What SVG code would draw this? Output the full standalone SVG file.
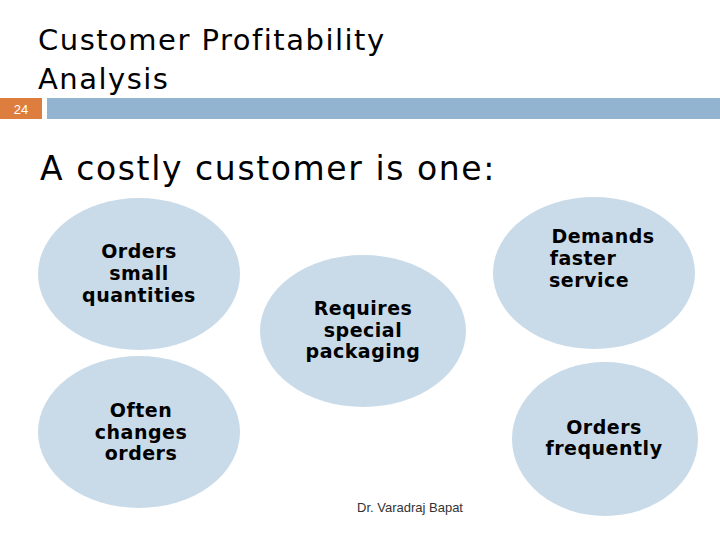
<svg xmlns="http://www.w3.org/2000/svg" width="720" height="540" viewBox="0 0 720 540">
<style>
.t{font-family:"DejaVu Sans",sans-serif;fill:#000}
.n{fill:#c9dbe9}
.b{font-family:"DejaVu Sans",sans-serif;font-weight:bold;font-size:19px;text-anchor:middle;letter-spacing:0.5px}
</style>
<rect width="720" height="540" fill="#fff"/>
<text class="t" x="38" y="50" font-size="29" letter-spacing="1.5">Customer Profitability</text>
<text class="t" x="38" y="89" font-size="29" letter-spacing="1.5">Analysis</text>
<rect x="0" y="98" width="42" height="21" fill="#dd7e3e"/>
<text x="21" y="114" font-family="Liberation Sans,sans-serif" font-size="13" fill="#fff" text-anchor="middle">24</text>
<rect x="47" y="98" width="673" height="21" fill="#93b4d0"/>
<text class="t" x="40" y="180" font-size="33" letter-spacing="1.6">A costly customer is one:</text>
<g id="n1"><ellipse class="n" cx="139" cy="274" rx="101" ry="76"/><text class="b" x="139" y="258">Orders</text><text class="b" x="139" y="280">small</text><text class="b" x="139" y="302">quantities</text></g>
<g id="n2"><ellipse class="n" cx="363" cy="331" rx="103" ry="76"/><text class="b" x="363" y="315">Requires</text><text class="b" x="363" y="337">special</text><text class="b" x="363" y="358">packaging</text></g>
<g id="n3"><ellipse class="n" cx="594" cy="273" rx="101" ry="76"/><text class="b" x="603" y="243">Demands</text><text class="b" x="583" y="265">faster</text><text class="b" x="589" y="287">service</text></g>
<g id="n4"><ellipse class="n" cx="139" cy="432" rx="101" ry="76"/><text class="b" x="141" y="417">Often</text><text class="b" x="141" y="439">changes</text><text class="b" x="141" y="460">orders</text></g>
<g id="n5"><ellipse class="n" cx="605" cy="439" rx="93" ry="77"/><text class="b" x="604" y="434">Orders</text><text class="b" x="604" y="455">frequently</text></g>
<g id="connectors"/>
<text x="410" y="512" font-family="Liberation Sans,sans-serif" font-size="13" fill="#333" text-anchor="middle">Dr. Varadraj Bapat</text>
</svg>
